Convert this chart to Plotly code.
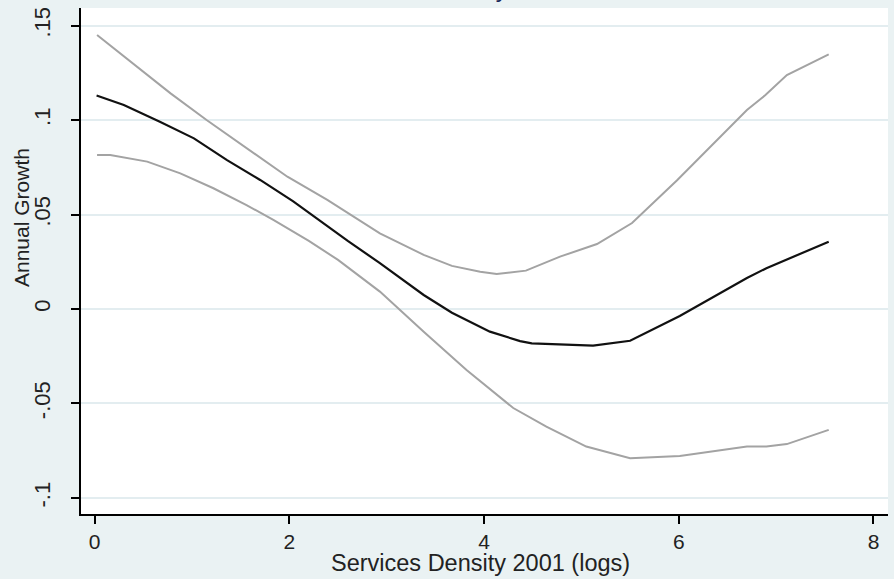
import plotly.graph_objects as go

# Services density (logs) and fitted annual growth with confidence bands
x_mid = [0.02, 0.30, 0.67, 1.02, 1.36, 1.70, 2.04, 2.28, 2.60, 2.93, 3.38, 3.67, 4.06, 4.37, 4.49, 5.12, 5.50, 6.01, 6.70, 6.90, 7.54]
y_mid = [0.1130, 0.1080, 0.0991, 0.0903, 0.0788, 0.0683, 0.0570, 0.0478, 0.0360, 0.0243, 0.0074, -0.0020, -0.0120, -0.0170, -0.0182, -0.0194, -0.0168, -0.0037, 0.0164, 0.0216, 0.0356]

x_up = [0.025, 0.47, 0.78, 1.15, 1.56, 1.98, 2.39, 2.66, 2.93, 3.38, 3.67, 3.96, 4.13, 4.43, 4.78, 5.16, 5.52, 5.98, 6.70, 6.89, 7.11, 7.54]
y_up = [0.145, 0.1265, 0.1141, 0.100, 0.085, 0.070, 0.0577, 0.0488, 0.040, 0.0286, 0.0228, 0.0197, 0.0185, 0.0203, 0.0277, 0.0344, 0.0455, 0.068, 0.1053, 0.1132, 0.1238, 0.1348]

x_lo = [0.025, 0.16, 0.54, 0.88, 1.22, 1.56, 1.84, 2.20, 2.50, 2.93, 3.38, 3.82, 4.30, 4.64, 5.05, 5.50, 6.01, 6.70, 6.90, 7.11, 7.54]
y_lo = [0.0815, 0.0815, 0.078, 0.0718, 0.0639, 0.055, 0.047, 0.036, 0.026, 0.0092, -0.012, -0.0323, -0.0524, -0.0623, -0.0728, -0.079, -0.0778, -0.0728, -0.0728, -0.0715, -0.064]

x_ticks = [0, 2, 4, 6, 8]
x_tick_labels = ["0", "2", "4", "6", "8"]
y_ticks = [-0.1, -0.05, 0, 0.05, 0.1, 0.15]
y_tick_labels = ["-.1", "-.05", "0", ".05", ".1", ".15"]

title_text = "Services Density"
x_title = "Services Density 2001 (logs)"
y_title = "Annual Growth"

BG = "#eaf2f3"
GRID = "#e3edf0"
FONT = "Liberation Sans"
TXT = "#222222"

fig = go.Figure()
fig.add_trace(go.Scatter(x=x_up, y=y_up, mode="lines", line=dict(color="#a3a3a3", width=2), showlegend=False))
fig.add_trace(go.Scatter(x=x_lo, y=y_lo, mode="lines", line=dict(color="#a3a3a3", width=2), showlegend=False))
fig.add_trace(go.Scatter(x=x_mid, y=y_mid, mode="lines", line=dict(color="#111111", width=2.2), showlegend=False))

# title mostly above the visible page (only a descender shows, as in the source)
fig.add_annotation(text=title_text, xref="paper", yref="paper", x=0.531, y=1.008,
                   xanchor="right", yanchor="bottom", showarrow=False,
                   font=dict(family=FONT, size=24, color="#1c2a5c"))
# axis titles
fig.add_annotation(text=x_title, xref="paper", yref="paper", x=0.4955, y=-0.0975,
                   xanchor="center", yanchor="middle", showarrow=False,
                   font=dict(family=FONT, size=23.5, color=TXT))
fig.add_annotation(text=y_title, xref="paper", yref="paper", x=-0.0731, y=0.585,
                   xanchor="center", yanchor="middle", showarrow=False, textangle=-90,
                   font=dict(family=FONT, size=21, color=TXT))

fig.update_layout(
    width=894, height=579,
    margin=dict(l=81, r=6, t=8, b=65),
    paper_bgcolor=BG, plot_bgcolor="white",
    font=dict(family=FONT, size=22, color=TXT),
    showlegend=False,
)
fig.update_xaxes(
    range=[-0.14, 8.149], tickvals=x_ticks, ticktext=x_tick_labels,
    showgrid=False, zeroline=False, showline=True, linecolor="black", linewidth=2,
    ticks="outside", ticklen=8, tickwidth=2, tickcolor="black",
    tickfont=dict(size=21),
)
fig.update_yaxes(
    range=[-0.1085, 0.1593], tickvals=y_ticks, ticktext=y_tick_labels,
    showgrid=True, gridcolor=GRID, gridwidth=2, zeroline=False,
    showline=True, linecolor="black", linewidth=2,
    ticks="outside", ticklen=8, tickwidth=2, tickcolor="black",
    tickangle=-90, tickfont=dict(size=22), ticklabelstandoff=12,
)

fig.write_html("out.html", config={"displayModeBar": False},
               post_script="document.body.style.margin='0px';document.body.style.background='%s';" % BG)
